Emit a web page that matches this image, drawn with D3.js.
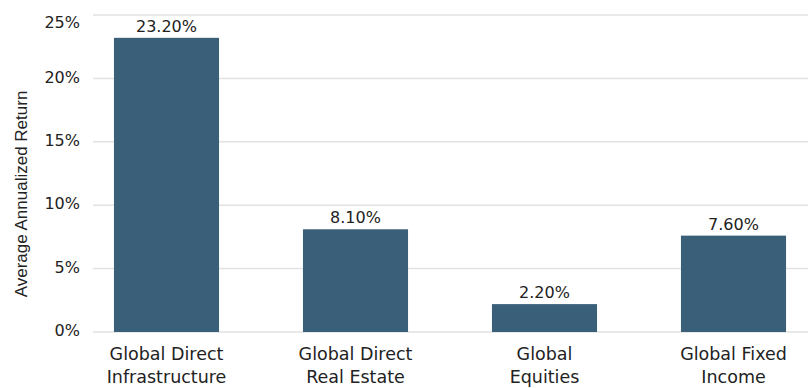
<!DOCTYPE html>
<html>
<head>
<meta charset="utf-8">
<script src="https://cdn.jsdelivr.net/npm/d3@7"></script>
<style>
  body { margin: 0; background: #fff; }
  text { font-family: "DejaVu Sans", sans-serif; fill: #222; }
</style>
</head>
<body>
<div id="chart"></div>
<script>
// data
var categories = [["Global Direct", "Infrastructure"], ["Global Direct", "Real Estate"], ["Global", "Equities"], ["Global Fixed", "Income"]];
var returns = [23.2, 8.1, 2.2, 7.6];
var yTicks = [0, 5, 10, 15, 20, 25];
var yLabel = "Average Annualized Return";

var width = 808, height = 388;

var svg = d3.select("#chart")
    .append("svg")
        .attr("width", width)
        .attr("height", height);

var ids = d3.range(categories.length);

var x = d3.scaleBand()
    .domain(ids)
    .range([72, 828])
    .paddingInner(0.444)
    .paddingOuter(0.222);

var y = d3.scaleLinear()
    .domain([0, 25])
    .range([332, 15]);

// gridlines
svg.append("g")
    .selectAll("line")
    .data(yTicks)
    .enter()
    .append("line")
        .attr("x1", 93)
        .attr("x2", width)
        .attr("y1", function(d) { return y(d); })
        .attr("y2", function(d) { return y(d); })
        .attr("stroke", "#e2e2e2")
        .attr("stroke-width", 1.5);

// y tick labels
svg.append("g")
    .selectAll("text")
    .data(yTicks)
    .enter()
    .append("text")
        .attr("x", 80)
        .attr("y", function(d) { return d === 25 ? y(d) + 7 : y(d) - 1.5; })
        .attr("dy", "0.35em")
        .attr("text-anchor", "end")
        .style("font-size", "16px")
        .text(function(d) { return d + "%"; });

// bars
svg.selectAll("rect.bar")
    .data(returns)
    .enter()
    .append("rect")
        .attr("class", "bar")
        .attr("x", function(d, i) { return x(i); })
        .attr("y", function(d) { return y(d); })
        .attr("width", x.bandwidth())
        .attr("height", function(d) { return y(0) - y(d); })
        .style("fill", "#3a5f79");

// value labels
svg.selectAll("text.val")
    .data(returns)
    .enter()
    .append("text")
        .attr("class", "val")
        .attr("x", function(d, i) { return x(i) + x.bandwidth() / 2; })
        .attr("y", function(d) { return y(d) - 6; })
        .attr("text-anchor", "middle")
        .style("font-size", "16px")
        .text(function(d) { return d.toFixed(2) + "%"; });

// category labels
var cat = svg.selectAll("text.cat")
    .data(categories)
    .enter()
    .append("text")
        .attr("class", "cat")
        .attr("text-anchor", "middle")
        .style("font-size", "17.5px");
cat.selectAll("tspan")
    .data(function(d, i) { return d.map(function(s) { return {s: s, i: i}; }); })
    .enter()
    .append("tspan")
        .attr("x", function(d) { return x(d.i) + x.bandwidth() / 2; })
        .attr("y", function(d, j) { return 360 + j * 23; })
        .text(function(d) { return d.s; });

// y axis title
svg.append("text")
    .attr("transform", "rotate(-90)")
    .attr("x", -194)
    .attr("y", 27)
    .attr("text-anchor", "middle")
    .style("font-family", "'Liberation Sans', Arial, sans-serif")
    .style("font-size", "17px")
    .text(yLabel);
</script>
</body>
</html>
